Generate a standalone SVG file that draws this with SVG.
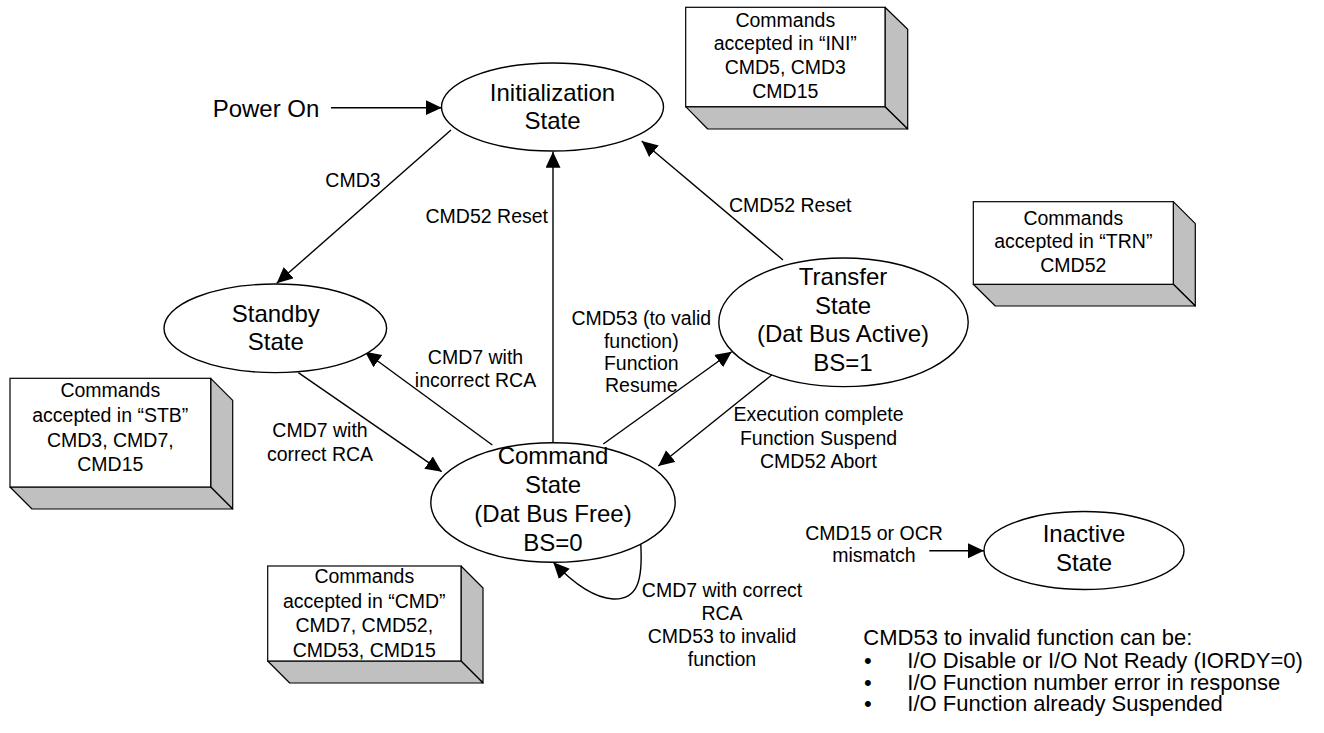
<svg xmlns="http://www.w3.org/2000/svg" width="1324" height="733" viewBox="0 0 1324 733">
<style>
text{font-family:"Liberation Sans",Arial,sans-serif;fill:#000}
.st{font-size:24px;text-anchor:middle}
.lb{font-size:19.5px;text-anchor:middle}
.nt{font-size:19.5px;text-anchor:middle}
.ft{font-size:22px}
.el{fill:#fff;stroke:#000;stroke-width:1.4}
.fr{fill:#fff;stroke:#000;stroke-width:1.2}
.sd{fill:#c0c0c0;stroke:#000;stroke-width:1.2;stroke-linejoin:round}
.cn{fill:none;stroke:#000;stroke-width:1.4;marker-end:url(#ah)}
</style>
<defs>
<marker id="ah" markerUnits="userSpaceOnUse" markerWidth="17" markerHeight="16" refX="16" refY="7.5" orient="auto">
<path d="M0,0 L16,7.5 L0,15 z" fill="#000"/>
</marker>
</defs>
<rect width="1324" height="733" fill="#fff"/>

<g id="connectors">
<path class="cn" d="M331,107.7 L441.7,107.7"/>
<path class="cn" d="M451,130 L276.7,283.3"/>
<path class="cn" d="M553,443 L553,151.7"/>
<path class="cn" d="M783,260 L641.7,141"/>
<path class="cn" d="M492.3,445 L365,351.7"/>
<path class="cn" d="M298.3,372.7 L441.7,471.7"/>
<path class="cn" d="M603.3,444 L731.7,351.7"/>
<path class="cn" d="M771.7,375 L658.3,466"/>
<path class="cn" d="M640.7,543 C643,580 638,600 613,599 C595,598 575,585 553.3,562.3"/>
<path class="cn" d="M929.3,550.7 L984,550.7"/>
</g>

<g id="labels">
<text class="st" x="266" y="117.3">Power On</text>
<text class="lb" x="353" y="186.7">CMD3</text>
<text class="lb" x="548" y="223.3" style="text-anchor:end">CMD52 Reset</text>
<text class="lb" x="729" y="211.7" style="text-anchor:start">CMD52 Reset</text>
<text class="lb" x="475.5" y="364">CMD7 with</text>
<text class="lb" x="475.5" y="387.3">incorrect RCA</text>
<text class="lb" x="320" y="436.7">CMD7 with</text>
<text class="lb" x="320" y="461">correct RCA</text>
<text class="lb" x="641.3" y="325">CMD53 (to valid</text>
<text class="lb" x="641.3" y="347.5">function)</text>
<text class="lb" x="641.3" y="370">Function</text>
<text class="lb" x="641.3" y="392">Resume</text>
<text class="lb" x="818.5" y="421">Execution complete</text>
<text class="lb" x="818.5" y="445">Function Suspend</text>
<text class="lb" x="818.5" y="467.7">CMD52 Abort</text>
<text class="lb" x="874" y="540">CMD15 or OCR</text>
<text class="lb" x="874" y="562.3">mismatch</text>
<text class="lb" x="722" y="597.3">CMD7 with correct</text>
<text class="lb" x="722" y="620">RCA</text>
<text class="lb" x="722" y="643">CMD53 to invalid</text>
<text class="lb" x="722" y="666">function</text>
</g>

<g id="init">
<ellipse class="el" cx="552.5" cy="107" rx="111" ry="44"/>
<text class="st" x="552.5" y="100.7">Initialization</text>
<text class="st" x="552.5" y="129">State</text>
</g>

<g id="standby">
<ellipse class="el" cx="275.3" cy="328.3" rx="111.3" ry="44.3"/>
<text class="st" x="275.8" y="321.7">Standby</text>
<text class="st" x="275.8" y="350">State</text>
</g>

<g id="transfer">
<ellipse class="el" cx="843.5" cy="322.3" rx="124.7" ry="64.3"/>
<text class="st" x="843" y="285">Transfer</text>
<text class="st" x="843" y="313.5">State</text>
<text class="st" x="843" y="342">(Dat Bus Active)</text>
<text class="st" x="843" y="370.5">BS=1</text>
</g>

<g id="command">
<ellipse class="el" cx="553" cy="502.5" rx="122.2" ry="59.8"/>
<text class="st" x="553" y="464">Command</text>
<text class="st" x="553" y="493">State</text>
<text class="st" x="553" y="522">(Dat Bus Free)</text>
<text class="st" x="553" y="551">BS=0</text>
</g>

<g id="inactive">
<ellipse class="el" cx="1084" cy="550.5" rx="100" ry="39"/>
<text class="st" x="1084" y="541.7">Inactive</text>
<text class="st" x="1084" y="570.7">State</text>
</g>

<g id="note-ini">
<polygon class="sd" points="885,7.3 907.7,29.3 907.7,129 885,106.7"/>
<polygon class="sd" points="685.7,106.7 707.7,129 907.7,129 885,106.7"/>
<rect class="fr" x="685.7" y="7.3" width="199.3" height="99.4"/>
<text class="nt" x="785.3" y="26.7">Commands</text>
<text class="nt" x="785.3" y="50.3">accepted in “INI”</text>
<text class="nt" x="785.3" y="74">CMD5, CMD3</text>
<text class="nt" x="785.3" y="98">CMD15</text>
</g>

<g id="note-trn">
<polygon class="sd" points="1173.3,201.7 1195.3,223.7 1195.3,306 1173.3,284.3"/>
<polygon class="sd" points="973.3,284.3 995.3,306 1195.3,306 1173.3,284.3"/>
<rect class="fr" x="973.3" y="201.7" width="200" height="82.6"/>
<text class="nt" x="1073.3" y="225">Commands</text>
<text class="nt" x="1073.3" y="248.3">accepted in “TRN”</text>
<text class="nt" x="1073.3" y="271.7">CMD52</text>
</g>

<g id="note-stb">
<polygon class="sd" points="210.7,378.3 232.7,400.3 232.7,509 210.7,487"/>
<polygon class="sd" points="10,487 32,509 232.7,509 210.7,487"/>
<rect class="fr" x="10" y="378.3" width="200.7" height="108.7"/>
<text class="nt" x="110.3" y="396.7">Commands</text>
<text class="nt" x="110.3" y="422">accepted in “STB”</text>
<text class="nt" x="110.3" y="446.7">CMD3, CMD7,</text>
<text class="nt" x="110.3" y="471">CMD15</text>
</g>

<g id="note-cmd">
<polygon class="sd" points="461,566 483,588 483,683 461,661"/>
<polygon class="sd" points="267.7,661 289.7,683 483,683 461,661"/>
<rect class="fr" x="267.7" y="566" width="193.3" height="95"/>
<text class="nt" x="364.3" y="583.3">Commands</text>
<text class="nt" x="364.3" y="607.7">accepted in “CMD”</text>
<text class="nt" x="364.3" y="632.3">CMD7, CMD52,</text>
<text class="nt" x="364.3" y="656.7">CMD53, CMD15</text>
</g>

<g id="footnote">
<text class="ft" x="863.3" y="645">CMD53 to invalid function can be:<tspan x="864" y="667.5">•</tspan><tspan x="907.3" y="667.5">I/O Disable or I/O Not Ready (IORDY=0)</tspan><tspan x="864" y="689.5">•</tspan><tspan x="907.3" y="689.5">I/O Function number error in response</tspan><tspan x="864" y="711">•</tspan><tspan x="907.3" y="711">I/O Function already Suspended</tspan></text>
</g>
</svg>
